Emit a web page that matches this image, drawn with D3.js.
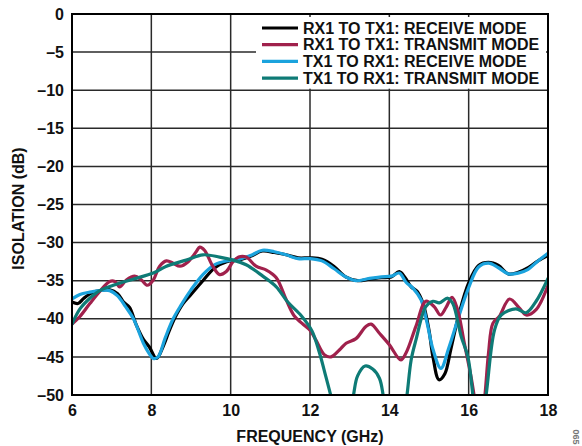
<!DOCTYPE html>
<html>
<head>
<meta charset="utf-8">
<script src="https://cdn.jsdelivr.net/npm/d3@7"></script>
<style>
  html, body { margin: 0; padding: 0; background: #fff; }
  svg { display: block; }
  text { font-family: "Liberation Sans", Arial, Helvetica, sans-serif; font-weight: bold; }
</style>
</head>
<body>
<div id="chart"></div>
<script>
// ---- Data ----
const xTicks = [6, 8, 10, 12, 14, 16, 18];
const yTicks = [0, -5, -10, -15, -20, -25, -30, -35, -40, -45, -50];

const seriesNames = [
  "RX1 TO TX1: RECEIVE MODE",
  "RX1 TO TX1: TRANSMIT MODE",
  "TX1 TO RX1: RECEIVE MODE",
  "TX1 TO RX1: TRANSMIT MODE"
];
const seriesColors = ["#000000", "#a0214c", "#1ba3dd", "#0e7b76"];

// RX1 TO TX1: RECEIVE MODE
const freqRxRecv = [6.0, 6.15, 6.3, 6.5, 6.7, 6.95, 7.15, 7.3, 7.45, 7.62, 7.8, 7.95, 8.13, 8.3, 8.45, 8.6, 8.8, 9.0, 9.3, 9.6, 9.9, 10.2, 10.5, 10.8, 11.1, 11.4, 11.7, 12.0, 12.3, 12.6, 12.9, 13.2, 13.5, 13.8, 14.05, 14.25, 14.4, 14.55, 14.7, 14.85, 15.0, 15.1, 15.25, 15.4, 15.55, 15.75, 16.0, 16.25, 16.5, 16.75, 17.0, 17.25, 17.5, 17.75, 18.0];
const isoRxRecv  = [-37.8, -38.0, -37.3, -36.6, -36.3, -36.2, -36.7, -37.8, -38.5, -40.8, -42.7, -43.7, -45.2, -43.6, -41.6, -39.8, -38.0, -36.8, -35.0, -33.3, -32.5, -32.3, -31.8, -31.1, -31.3, -31.6, -32.0, -32.0, -32.2, -33.1, -34.5, -35.0, -34.8, -34.6, -34.5, -33.8, -34.6, -35.8, -36.4, -38.0, -41.5, -45.0, -48.0, -47.2, -44.0, -39.5, -35.3, -33.0, -32.6, -33.0, -34.1, -33.9, -33.3, -32.4, -31.7];

// RX1 TO TX1: TRANSMIT MODE
const freqRxTrans = [6.0, 6.2, 6.45, 6.7, 6.95, 7.08, 7.2, 7.37, 7.58, 7.75, 7.9, 8.05, 8.21, 8.38, 8.55, 8.72, 8.93, 9.13, 9.22, 9.34, 9.55, 9.72, 9.89, 10.06, 10.2, 10.39, 10.64, 10.9, 11.15, 11.4, 11.6, 11.8, 12.0, 12.15, 12.36, 12.53, 12.74, 12.91, 13.16, 13.41, 13.54, 13.75, 14.0, 14.29, 14.42, 14.67, 14.92, 15.13, 15.29, 15.43, 15.58, 15.72, 15.89, 16.06, 16.15, 16.27, 16.4, 16.5, 16.61, 16.77, 17.03, 17.28, 17.45, 17.7, 18.0];
const isoRxTrans  = [-40.7, -39.7, -38.0, -36.4, -35.1, -35.1, -35.8, -34.9, -34.4, -34.9, -35.6, -34.9, -33.1, -32.4, -32.7, -33.1, -32.5, -31.2, -30.6, -31.0, -33.1, -34.2, -33.8, -32.5, -31.9, -31.9, -33.1, -33.6, -34.6, -37.5, -39.6, -40.6, -41.5, -42.8, -44.7, -45.0, -44.1, -43.2, -42.6, -41.0, -40.7, -41.9, -43.4, -45.4, -44.5, -41.0, -37.7, -38.4, -39.5, -38.5, -37.2, -38.8, -43.2, -47.6, -50.5, -55.0, -50.5, -44.5, -40.6, -39.7, -37.4, -38.6, -39.5, -38.8, -35.6];

// TX1 TO RX1: RECEIVE MODE
const freqTxRecv = [6.0, 6.2, 6.45, 6.7, 6.95, 7.15, 7.35, 7.55, 7.8, 7.95, 8.05, 8.17, 8.35, 8.55, 8.75, 9.0, 9.3, 9.6, 9.9, 10.2, 10.5, 10.8, 11.1, 11.4, 11.7, 12.0, 12.3, 12.6, 12.9, 13.15, 13.5, 13.8, 14.05, 14.25, 14.42, 14.6, 14.8, 14.95, 15.1, 15.3, 15.5, 15.75, 16.0, 16.25, 16.5, 16.75, 17.0, 17.25, 17.5, 17.75, 18.0];
const isoTxRecv  = [-37.4, -36.8, -36.5, -36.3, -36.3, -37.0, -38.4, -40.0, -43.2, -44.6, -45.2, -45.0, -42.5, -40.0, -38.2, -36.2, -34.2, -32.9, -32.4, -32.2, -31.7, -31.0, -31.2, -31.6, -32.1, -32.1, -32.4, -33.4, -34.5, -35.0, -34.7, -34.5, -34.4, -34.0, -35.2, -36.0, -37.5, -40.5, -44.0, -46.5, -43.8, -39.7, -35.9, -33.2, -32.7, -33.3, -34.1, -34.0, -33.5, -32.4, -31.4];

// TX1 TO RX1: TRANSMIT MODE
const freqTxTrans = [6.0, 6.2, 6.45, 6.7, 7.04, 7.54, 8.05, 8.38, 8.88, 9.3, 9.72, 10.06, 10.39, 10.81, 11.15, 11.44, 11.78, 12.05, 12.24, 12.4, 12.53, 12.65, 12.8, 12.95, 13.09, 13.2, 13.39, 13.58, 13.75, 13.85, 14.0, 14.2, 14.35, 14.44, 14.55, 14.67, 14.92, 15.1, 15.26, 15.47, 15.6, 15.81, 15.98, 16.11, 16.2, 16.32, 16.44, 16.65, 16.82, 17.19, 17.45, 17.7, 18.0];
const isoTxTrans  = [-40.7, -38.7, -37.3, -36.3, -35.6, -34.8, -34.0, -33.1, -32.3, -31.6, -31.9, -32.3, -32.9, -34.4, -35.8, -37.8, -39.6, -41.6, -44.5, -47.6, -50.2, -53.0, -56.0, -54.0, -50.2, -47.5, -46.2, -46.6, -47.8, -50.2, -55.0, -57.0, -53.0, -50.2, -45.4, -42.8, -38.4, -37.7, -37.9, -37.3, -38.0, -42.3, -45.0, -50.2, -54.0, -54.0, -50.0, -41.5, -39.5, -38.7, -39.2, -37.7, -34.7];

// ---- Layout ----
const W = 582, H = 446;
const plot = { left: 72, right: 548, top: 14, bottom: 395 };
const FONT = 16;

const svg = d3.select("#chart").append("svg")
  .attr("width", W).attr("height", H);

const x = d3.scaleLinear().domain([6, 18]).range([plot.left, plot.right]);
const y = d3.scaleLinear().domain([-50, 0]).range([plot.bottom, plot.top]);

// grid
const grid = svg.append("g");
grid.selectAll("line.v").data(xTicks).join("line")
  .attr("x1", d => x(d)).attr("x2", d => x(d))
  .attr("y1", plot.top).attr("y2", plot.bottom)
  .attr("stroke", "#2a2a2a").attr("stroke-width", 1.5);
grid.selectAll("line.h").data(yTicks).join("line")
  .attr("x1", plot.left).attr("x2", plot.right)
  .attr("y1", d => y(d)).attr("y2", d => y(d))
  .attr("stroke", "#2a2a2a").attr("stroke-width", 1.5);

// clip
svg.append("clipPath").attr("id", "clip").append("rect")
  .attr("x", plot.left).attr("y", plot.top)
  .attr("width", plot.right - plot.left).attr("height", plot.bottom - plot.top);

const series = [
  { f: freqRxRecv, v: isoRxRecv, c: seriesColors[0] },
  { f: freqTxRecv, v: isoTxRecv, c: seriesColors[2] },
  { f: freqRxTrans, v: isoRxTrans, c: seriesColors[1] },
  { f: freqTxTrans, v: isoTxTrans, c: seriesColors[3] }
];

const line = d3.line()
  .x(d => x(d[0])).y(d => y(d[1]))
  .curve(d3.curveCatmullRom.alpha(0.5));

const lines = svg.append("g").attr("clip-path", "url(#clip)");
series.forEach(s => {
  lines.append("path")
    .datum(s.f.map((f, i) => [f, s.v[i]]))
    .attr("d", line)
    .attr("fill", "none")
    .attr("stroke", s.c)
    .attr("stroke-width", 3.2)
    .attr("stroke-linejoin", "round")
    .attr("stroke-linecap", "round");
});

// legend box
const lg = svg.append("g");
lg.append("rect")
  .attr("x", 256).attr("y", plot.top + 3)
  .attr("width", plot.right - 2 - 256).attr("height", y(-10) - plot.top - 4.5)
  .attr("fill", "#fff");
seriesNames.forEach((name, i) => {
  const yy = 28 + i * 16.7;
  lg.append("line")
    .attr("x1", 262).attr("x2", 298)
    .attr("y1", yy).attr("y2", yy)
    .attr("stroke", seriesColors[i]).attr("stroke-width", 3.2);
  lg.append("text")
    .attr("x", 303).attr("y", yy)
    .attr("dy", "0.36em")
    .attr("font-size", FONT)
    .attr("fill", "#111")
    .text(name);
});

// frame
svg.append("rect")
  .attr("x", plot.left).attr("y", plot.top)
  .attr("width", plot.right - plot.left).attr("height", plot.bottom - plot.top)
  .attr("fill", "none").attr("stroke", "#000").attr("stroke-width", 2);

// axes (library axes, restyled)
const fmt = d => d < 0 ? "\u2013" + Math.abs(d) : String(d);
const yAxis = svg.append("g")
  .attr("transform", `translate(${plot.left},0)`)
  .call(d3.axisLeft(y).tickValues(yTicks).tickFormat(fmt).tickSize(0).tickPadding(8));
yAxis.select(".domain").remove();
yAxis.selectAll("text")
  .attr("font-size", FONT).attr("font-family", "Liberation Sans, Arial, sans-serif")
  .attr("font-weight", "bold").attr("fill", "#111");

const xAxis = svg.append("g")
  .attr("transform", `translate(0,${plot.bottom})`)
  .call(d3.axisBottom(x).tickValues(xTicks).tickFormat(d3.format("d")).tickSize(0).tickPadding(10));
xAxis.select(".domain").remove();
xAxis.selectAll("text")
  .attr("font-size", FONT).attr("font-family", "Liberation Sans, Arial, sans-serif")
  .attr("font-weight", "bold").attr("fill", "#111");

// axis titles
svg.append("text")
  .attr("x", (plot.left + plot.right) / 2).attr("y", 442)
  .attr("text-anchor", "middle").attr("font-size", FONT).attr("fill", "#111")
  .text("FREQUENCY (GHz)");
svg.append("text")
  .attr("transform", `translate(24,${(plot.top + plot.bottom) / 2 + 4}) rotate(-90)`)
  .attr("text-anchor", "middle").attr("font-size", FONT).attr("fill", "#111")
  .text("ISOLATION (dB)");

// figure id
svg.append("text")
  .attr("transform", "translate(573,437) rotate(90)")
  .attr("text-anchor", "middle").attr("font-size", 9).attr("font-weight", "normal")
  .attr("fill", "#777")
  .text("065");
</script>
</body>
</html>
